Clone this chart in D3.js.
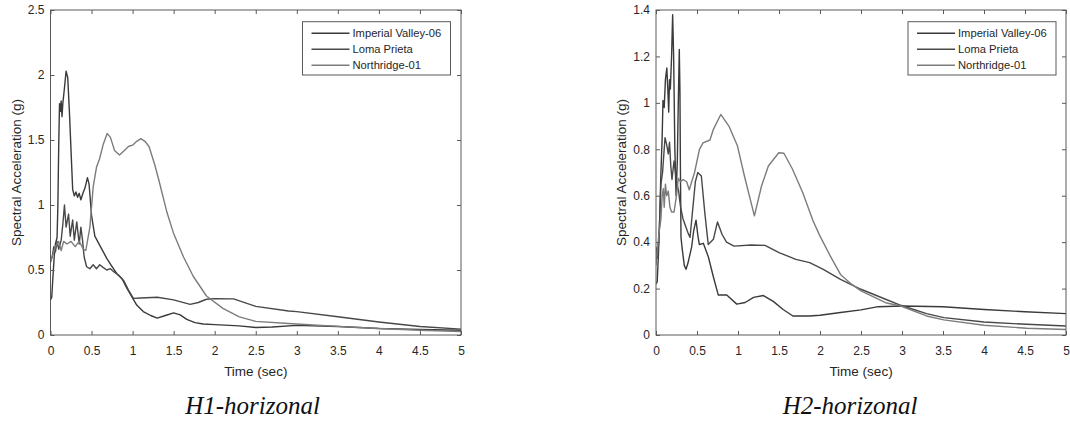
<!DOCTYPE html>
<html>
<head>
<meta charset="utf-8">
<script src="https://cdn.jsdelivr.net/npm/d3@7"></script>
<style>
  html, body { margin: 0; padding: 0; background: #fff; }
  svg { display: block; }
</style>
</head>
<body>
<svg id="chart" width="1070" height="421"></svg>
<script>
// ---- data ------------------------------------------------------------
const seriesNames = ["Imperial Valley-06", "Loma Prieta", "Northridge-01"];
const timeTicks = [0, 0.5, 1, 1.5, 2, 2.5, 3, 3.5, 4, 4.5, 5];
const h1Ticks = [0, 0.5, 1, 1.5, 2, 2.5];
const h2Ticks = [0, 0.2, 0.4, 0.6, 0.8, 1, 1.2, 1.4];
const captions = ["H1-horizonal", "H2-horizonal"];

// spectral acceleration (g) vs period (s), H1 component
const h1Imperial = [[0,0.27],[0.015,0.29],[0.03,0.45],[0.045,0.6],[0.06,0.7],[0.08,0.75],[0.09,1.0],[0.1,1.45],
  [0.11,1.78],[0.12,1.72],[0.13,1.8],[0.14,1.68],[0.15,1.78],[0.17,1.9],[0.19,2.03],[0.21,1.98],[0.23,1.72],
  [0.25,1.42],[0.27,1.12],[0.29,1.07],[0.31,1.1],[0.33,1.06],[0.35,1.09],[0.37,1.04],[0.4,1.1],[0.42,1.13],
  [0.45,1.21],[0.47,1.16],[0.5,0.92],[0.54,0.76],[0.6,0.69],[0.685,0.59],[0.746,0.53],[0.81,0.47],[0.87,0.435],
  [0.93,0.36],[0.99,0.295],[1.05,0.23],[1.13,0.18],[1.22,0.15],[1.3,0.13],[1.4,0.15],[1.5,0.17],[1.58,0.155],
  [1.66,0.12],[1.76,0.095],[1.86,0.085],[2.0,0.08],[2.3,0.07],[2.5,0.058],[2.7,0.062],[3.0,0.074],[3.5,0.065],
  [4.0,0.05],[4.5,0.042],[5.0,0.036]];
const h1Loma = [[0,0.56],[0.02,0.6],[0.04,0.68],[0.06,0.64],[0.08,0.72],[0.1,0.66],[0.13,0.73],[0.15,0.85],
  [0.17,1.0],[0.19,0.83],[0.22,0.93],[0.24,0.76],[0.27,0.885],[0.29,0.73],[0.32,0.87],[0.35,0.7],[0.37,0.83],
  [0.39,0.73],[0.41,0.6],[0.44,0.525],[0.48,0.51],[0.52,0.54],[0.56,0.51],[0.6,0.54],[0.64,0.52],[0.685,0.5],
  [0.73,0.51],[0.77,0.487],[0.83,0.46],[0.89,0.42],[0.95,0.346],[1.01,0.282],[1.1,0.285],[1.3,0.29],[1.5,0.27],
  [1.7,0.236],[1.8,0.25],[1.9,0.275],[2.0,0.28],[2.23,0.278],[2.5,0.22],[2.9,0.185],[3.0,0.18],[3.5,0.14],
  [4.0,0.1],[4.5,0.065],[5.0,0.045]];
const h1Northridge = [[0,0.57],[0.03,0.62],[0.06,0.68],[0.1,0.72],[0.13,0.65],[0.16,0.72],[0.2,0.7],[0.25,0.72],
  [0.3,0.68],[0.35,0.72],[0.4,0.66],[0.43,0.65],[0.48,0.83],[0.52,1.14],[0.56,1.29],[0.6,1.36],[0.644,1.47],
  [0.69,1.55],[0.73,1.52],[0.78,1.42],[0.84,1.385],[0.9,1.42],[0.95,1.45],[1.0,1.46],[1.05,1.49],[1.1,1.51],
  [1.15,1.49],[1.2,1.45],[1.27,1.31],[1.32,1.19],[1.42,0.94],[1.5,0.78],[1.62,0.6],[1.74,0.45],[1.9,0.3],
  [2.1,0.205],[2.3,0.14],[2.5,0.105],[2.9,0.088],[3.0,0.085],[3.5,0.066],[4.0,0.05],[4.5,0.037],[5.0,0.027]];

// spectral acceleration (g) vs period (s), H2 component
const h2Imperial = [[0,0.22],[0.015,0.23],[0.03,0.35],[0.045,0.5],[0.06,0.7],[0.075,0.85],[0.085,1.01],[0.1,0.98],
  [0.115,1.1],[0.132,1.15],[0.145,1.05],[0.155,0.96],[0.165,1.1],[0.175,1.06],[0.19,1.2],[0.203,1.38],[0.215,1.2],
  [0.23,0.8],[0.245,0.6],[0.26,0.75],[0.272,1.0],[0.284,1.23],[0.292,1.05],[0.298,0.7],[0.305,0.42],[0.32,0.37],
  [0.345,0.3],[0.366,0.283],[0.39,0.31],[0.435,0.38],[0.46,0.45],[0.488,0.495],[0.51,0.43],[0.528,0.39],
  [0.577,0.395],[0.638,0.337],[0.7,0.25],[0.76,0.172],[0.863,0.172],[0.985,0.133],[1.087,0.14],[1.19,0.162],
  [1.31,0.17],[1.43,0.145],[1.55,0.11],[1.67,0.082],[1.87,0.082],[2.0,0.085],[2.25,0.097],[2.5,0.108],
  [2.71,0.122],[3.0,0.125],[3.5,0.122],[4.0,0.11],[4.5,0.1],[5.0,0.092]];
const h2Loma = [[0,0.38],[0.02,0.33],[0.04,0.45],[0.06,0.65],[0.08,0.7],[0.1,0.8],[0.11,0.85],[0.13,0.82],
  [0.15,0.78],[0.165,0.83],[0.18,0.73],[0.195,0.67],[0.22,0.75],[0.25,0.66],[0.276,0.62],[0.3,0.55],[0.33,0.5],
  [0.36,0.47],[0.39,0.44],[0.415,0.42],[0.45,0.55],[0.48,0.66],[0.51,0.7],[0.553,0.685],[0.595,0.527],
  [0.637,0.39],[0.7,0.412],[0.75,0.487],[0.805,0.434],[0.86,0.4],[0.952,0.383],[1.16,0.388],[1.33,0.386],
  [1.5,0.355],[1.706,0.326],[1.874,0.312],[2.04,0.283],[2.25,0.24],[2.5,0.197],[2.8,0.154],[2.985,0.128],
  [3.3,0.092],[3.51,0.075],[4.0,0.056],[4.52,0.046],[5.0,0.039]];
const h2Northridge = [[0,0.3],[0.02,0.38],[0.04,0.45],[0.06,0.5],[0.075,0.6],[0.09,0.63],[0.1,0.55],[0.115,0.65],
  [0.13,0.6],[0.15,0.62],[0.17,0.55],[0.19,0.53],[0.22,0.53],[0.25,0.6],[0.272,0.675],[0.3,0.66],[0.33,0.67],
  [0.374,0.66],[0.406,0.625],[0.435,0.66],[0.47,0.7],[0.53,0.8],[0.574,0.828],[0.658,0.84],[0.7,0.886],
  [0.79,0.95],[0.889,0.9],[0.994,0.814],[1.078,0.685],[1.2,0.513],[1.287,0.642],[1.37,0.728],[1.497,0.785],
  [1.56,0.783],[1.665,0.714],[1.79,0.613],[1.916,0.491],[2.0,0.426],[2.126,0.34],[2.25,0.261],[2.38,0.22],
  [2.5,0.19],[2.8,0.139],[2.985,0.125],[3.3,0.082],[3.51,0.065],[4.0,0.042],[4.52,0.029],[5.0,0.024]];

// ---- layout & style --------------------------------------------------
const seriesColors = ["#3a3a3a", "#484848", "#7c7c7c"];
const textColor = "#262626";
const frameColor = "#5a5a5a";
const FONT = "'Liberation Sans', Arial, Helvetica, sans-serif";

const panels = [
  { left: 50.5, right: 461, yMax: 2.5, yTicks: h1Ticks, series: [h1Imperial, h1Loma, h1Northridge],
    caption: captions[0], captionX: 252.6 },
  { left: 656, right: 1066, yMax: 1.4, yTicks: h2Ticks, series: [h2Imperial, h2Loma, h2Northridge],
    caption: captions[1], captionX: 850 }
];
const plotTop = 10, plotBottom = 335;

const svg = d3.select("#chart");
svg.append("rect").attr("width", 1070).attr("height", 421).attr("fill", "#fff");

panels.forEach((p, pi) => {
  const x = d3.scaleLinear().domain([0, 5]).range([p.left, p.right]);
  const y = d3.scaleLinear().domain([0, p.yMax]).range([plotBottom, plotTop]);
  const g = svg.append("g");
  const fmt = d3.format("~g");

  // clip region for the curves
  const clipId = "clip" + pi;
  svg.append("clipPath").attr("id", clipId)
    .append("rect").attr("x", p.left).attr("y", plotTop)
    .attr("width", p.right - p.left).attr("height", plotBottom - plotTop);

  // curves
  const line = d3.line().x(d => x(d[0])).y(d => y(d[1]));
  const curves = g.append("g").attr("clip-path", `url(#${clipId})`);
  p.series.forEach((s, i) => {
    curves.append("path").datum(s)
      .attr("d", line)
      .attr("fill", "none")
      .attr("stroke", seriesColors[i])
      .attr("stroke-width", 1.4)
      .attr("stroke-linejoin", "round");
  });

  // axes (ticks point inward, box drawn separately)
  const styleAxis = sel => {
    sel.select(".domain").remove();
    sel.selectAll(".tick line").attr("stroke", frameColor);
    sel.selectAll(".tick text").attr("fill", textColor)
      .style("font-family", FONT).style("font-size", "12px");
  };
  g.append("g").attr("transform", `translate(0,${plotBottom})`)
    .call(d3.axisBottom(x).tickValues(timeTicks).tickFormat(fmt).tickSize(-4).tickPadding(11.5))
    .call(styleAxis);
  g.append("g").attr("transform", `translate(0,${plotTop})`)
    .call(d3.axisTop(x).tickValues(timeTicks).tickFormat("").tickSize(-4))
    .call(styleAxis);
  g.append("g").attr("transform", `translate(${p.left},0)`)
    .call(d3.axisLeft(y).tickValues(p.yTicks).tickFormat(fmt).tickSize(-4).tickPadding(6))
    .call(styleAxis);
  g.append("g").attr("transform", `translate(${p.right},0)`)
    .call(d3.axisRight(y).tickValues(p.yTicks).tickFormat("").tickSize(-4))
    .call(styleAxis);

  // frame
  g.append("rect")
    .attr("x", p.left).attr("y", plotTop)
    .attr("width", p.right - p.left).attr("height", plotBottom - plotTop)
    .attr("fill", "none").attr("stroke", frameColor).attr("stroke-width", 1);

  // axis titles
  g.append("text")
    .attr("x", (p.left + p.right) / 2).attr("y", 375.5)
    .attr("text-anchor", "middle").attr("fill", textColor)
    .style("font-family", FONT).style("font-size", "13.5px")
    .text("Time (sec)");
  g.append("text")
    .attr("transform", `translate(${p.left - 30},${(plotTop + plotBottom) / 2}) rotate(-90)`)
    .attr("text-anchor", "middle").attr("fill", textColor)
    .style("font-family", FONT).style("font-size", "13.5px")
    .text("Spectral Acceleration (g)");

  // legend
  const lx = p.left + 252, ly = 21.7, lw = 148, lh = 53.3;
  const leg = g.append("g");
  leg.append("rect").attr("x", lx).attr("y", ly).attr("width", lw).attr("height", lh)
    .attr("fill", "#fff").attr("stroke", frameColor).attr("stroke-width", 1);
  seriesNames.forEach((name, i) => {
    const cy = ly + 11.6 + i * 16;
    leg.append("line").attr("x1", lx + 9).attr("x2", lx + 47).attr("y1", cy).attr("y2", cy)
      .attr("stroke", seriesColors[i]).attr("stroke-width", 1.4);
    leg.append("text").attr("x", lx + 50).attr("y", cy + 4)
      .attr("fill", textColor)
      .style("font-family", FONT).style("font-size", "11.2px")
      .text(name);
  });

  // caption below the panel
  g.append("text")
    .attr("x", p.captionX).attr("y", 414.4)
    .attr("text-anchor", "middle").attr("fill", "#111")
    .style("font-family", "'Liberation Serif', 'Times New Roman', serif")
    .style("font-style", "italic").style("font-size", "25px")
    .text(p.caption);
});
</script>
</body>
</html>
